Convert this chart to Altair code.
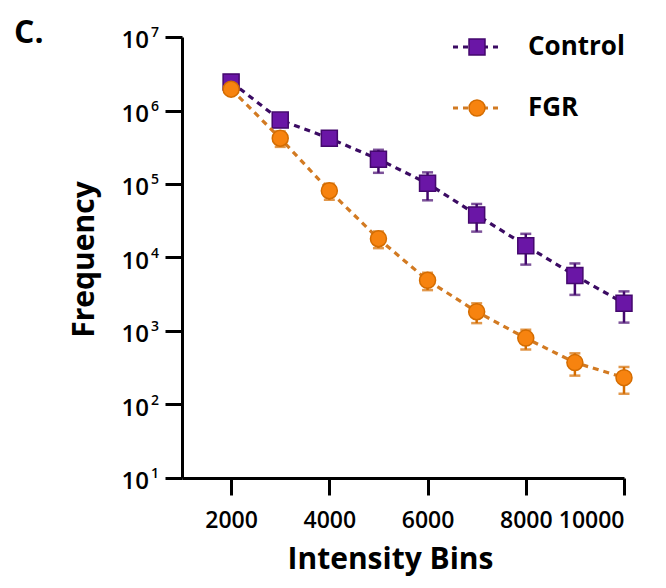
import altair as alt
import pandas as pd

bins = [2000, 3000, 4000, 5000, 6000, 7000, 8000, 9000, 10000]
control_mean = [2.45e6, 7.4e5, 4.2e5, 2.17e5, 1.02e5, 3.8e4, 1.45e4, 5.7e3, 2.38e3]
control_err = [4.0e5, 1.0e5, 5.0e4, 7.5e4, 4.2e4, 1.55e4, 6.5e3, 2.6e3, 1.08e3]
fgr_mean = [1.95e6, 4.2e5, 8.1e4, 1.8e4, 4.9e3, 1.83e3, 800, 372, 232]
fgr_err = [2.0e5, 1.0e5, 2.0e4, 4.6e3, 1.3e3, 550, 240, 125, 92]
series_names = ["Control", "FGR"]
y_exponents = [1, 2, 3, 4, 5, 6, 7]
x_ticks = [2000, 4000, 6000, 8000, 10000]

FONT = "Open Sans"

styles = {
    "Control": dict(line="#3b0b63", fill="#6a16a6", stroke="#44086e", shape="square",
                    mean=control_mean, err=control_err, ly=10),
    "FGR": dict(line="#d27a22", fill="#f7830f", stroke="#d46c00", shape="circle",
                mean=fgr_mean, err=fgr_err, ly=71),
}

xs = alt.Scale(domain=[1000, 10000], nice=False, zero=False)
ys = alt.Scale(type="log", domain=[10, 1e7], nice=False)

x_axis = alt.Axis(values=x_ticks, format="d", title="Intensity Bins", grid=False,
                  titleX=208, titleY=81, titleBaseline="middle", titleAlign="center",
                  labelPadding=14, labelFontSize=23)
y_axis = alt.Axis(values=[10 ** e for e in y_exponents], labels=False, title="Frequency",
                  grid=False, titleX=-98, titleY=222, titleAngle=270,
                  titleBaseline="middle", titleAlign="center")


def X(field):
    return alt.X(field, scale=xs, axis=x_axis)


def Y(field):
    return alt.Y(field, scale=ys, axis=y_axis)


layers = []

for name in series_names:
    st = styles[name]
    df = pd.DataFrame({"bin": bins, "mean": st["mean"], "err": st["err"]})
    df["lo"] = df["mean"] - df["err"]
    df["hi"] = df["mean"] + df["err"]
    base = alt.Chart(df)
    line = base.mark_line(color=st["line"], strokeWidth=3.2, strokeDash=[6, 5]).encode(
        x=X("bin:Q"), y=Y("mean:Q"))
    rule = base.mark_rule(color=st["stroke"], strokeWidth=2.5).encode(
        x=X("bin:Q"), y=Y("lo:Q"), y2="hi:Q")
    cap_lo = base.mark_tick(orient="horizontal", color=st["stroke"], size=11, thickness=2.5).encode(
        x=X("bin:Q"), y=Y("lo:Q"))
    cap_hi = base.mark_tick(orient="horizontal", color=st["stroke"], size=11, thickness=2.5).encode(
        x=X("bin:Q"), y=Y("hi:Q"))
    pts = base.mark_point(shape=st["shape"], filled=True, fill=st["fill"], stroke=st["stroke"],
                          strokeWidth=1.5, size=256, opacity=1).encode(
        x=X("bin:Q"), y=Y("mean:Q"))
    layers += [line, rule, cap_lo, cap_hi, pts]

    # legend entry
    leg = alt.Chart(pd.DataFrame({"name": [name]}))
    layers.append(leg.mark_rule(color=st["line"], strokeWidth=3.2, strokeDash=[5, 5]).encode(
        x=alt.value(271), x2=alt.value(318), y=alt.value(st["ly"])))
    layers.append(leg.mark_point(shape=st["shape"], filled=True, fill=st["fill"], stroke=st["stroke"],
                                 strokeWidth=1.5, size=256, opacity=1).encode(
        x=alt.value(295), y=alt.value(st["ly"])))
    layers.append(leg.mark_text(font=FONT, fontWeight="bold", fontSize=26, align="left",
                                baseline="middle", color="black").encode(
        x=alt.value(346), y=alt.value(st["ly"]), text="name:N"))

# y tick labels 10^n
ylab = pd.DataFrame({"v": [10 ** e for e in y_exponents],
                     "base": ["10"] * len(y_exponents),
                     "sup": [str(e) for e in y_exponents]})
layers.append(alt.Chart(ylab).mark_text(font=FONT, fontWeight=600, fontSize=24, align="right",
                                        baseline="alphabetic", dy=11, color="black").encode(
    x=alt.value(-33), y=Y("v:Q"), text="base:N"))
layers.append(alt.Chart(ylab).mark_text(font=FONT, fontWeight=600, fontSize=14, align="left",
                                        baseline="alphabetic", dy=0, color="black").encode(
    x=alt.value(-31), y=Y("v:Q"), text="sup:N"))

# panel letter
layers.append(alt.Chart(pd.DataFrame({"t": ["C."]})).mark_text(
    font=FONT, fontWeight="bold", fontSize=32, align="left", baseline="middle", color="black").encode(
    x=alt.value(-168), y=alt.value(-4), text="t:N"))

chart = alt.layer(*layers).properties(
    width=442, height=441,
    autosize=alt.AutoSizeParams(type="none"),
    padding={"left": 174, "top": 29, "right": 34, "bottom": 102},
).configure_view(stroke=None).configure_axis(
    domainColor="black", domainWidth=3, tickColor="black", tickWidth=3, tickSize=17,
    labelFont=FONT, labelFontWeight=600, labelFontSize=24, labelColor="black",
    titleFont=FONT, titleFontWeight="bold", titleFontSize=30, titleColor="black",
)

chart.save("out.html", embed_options={"renderer": "svg", "actions": False})
